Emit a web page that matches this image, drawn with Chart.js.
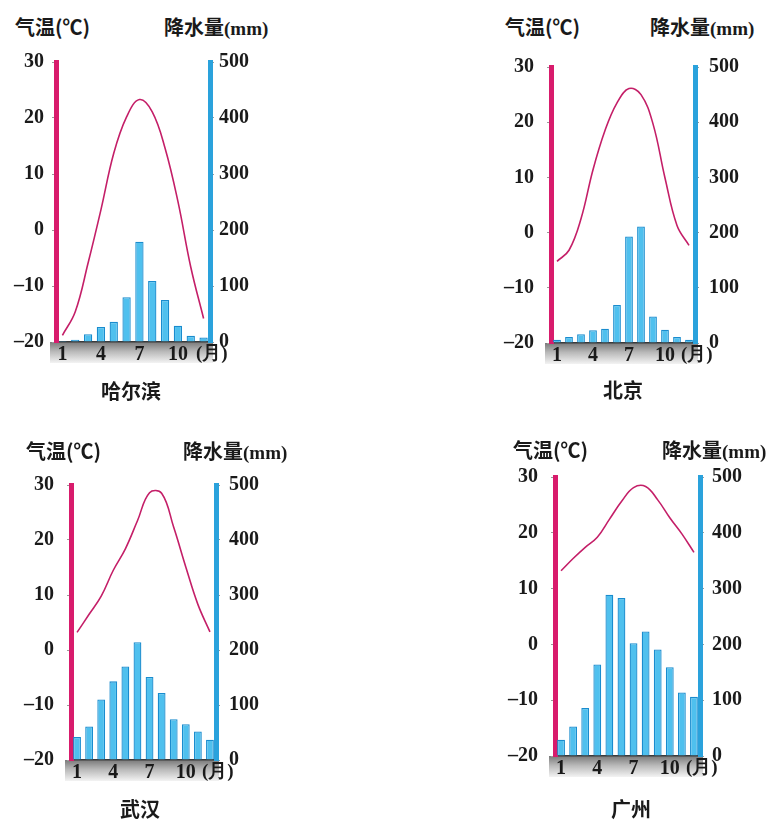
<!DOCTYPE html>
<html>
<head>
<meta charset="utf-8">
<script src="https://cdn.jsdelivr.net/npm/chart.js@4.4.1/dist/chart.umd.min.js"></script>
<style>
body { margin: 0; background: #fff; width: 769px; height: 820px; position: relative; overflow: hidden; }
.t { position: absolute; font-family: "Noto Sans CJK SC", sans-serif; font-weight: bold; font-size: 20px; color: #1a1a1a; white-space: nowrap; line-height: 20px; }
.mm { font-family: "Liberation Serif", serif; font-size: 19px; }
.yue { font-family: "Liberation Serif", serif; font-size: 19px; }
canvas { position: absolute; }
</style>
</head>
<body>
<script>
'use strict';

// data
var months = ['1', '2', '3', '4', '5', '6', '7', '8', '9', '10', '11', '12'];
var shownMonths = ['1', '4', '7', '10'];
var tempTicks = [-20, -10, 0, 10, 20, 30];
var rainTicks = [0, 100, 200, 300, 400, 500];

var harbinTemp = [-18.8, -14.6, -5.9, 3.6, 13.7, 20.2, 23.3, 21.1, 14.6, 5.1, -6.6, -15.8];
var harbinRain = [2, 4, 14, 27, 36, 80, 179, 109, 75, 29, 11, 8];

var beijingTemp = [-5.2, -3.2, 2.5, 11.4, 18.5, 23.5, 26.1, 25, 19.7, 9.9, 1.3, -2.3];
var beijingRain = [6, 11, 16, 23, 26, 69, 193, 211, 48, 24, 11, 6];

var wuhanTemp = [3.2, 6.5, 9.8, 14.5, 18.4, 23.5, 28.6, 28.5, 22.3, 15.1, 8.3, 3.3];
var wuhanRain = [42, 61, 110, 143, 170, 214, 151, 122, 74, 65, 52, 37];

var guangzhouTemp = [13.2, 15.4, 17.4, 19.2, 22.4, 25.6, 28.1, 28.3, 25.9, 22.7, 19.8, 16.5];
var guangzhouRain = [29, 53, 86, 164, 289, 283, 202, 223, 191, 159, 114, 106];

// where each little chart sits on the page
var charts = [
  { city: '哈尔滨', temp: harbinTemp, rain: harbinRain,
    x0: 56, x1: 210, y0: 62, y1: 342, lpad: 8, rpad: 5,
    tl: 15, tr: 164, ty: 17, cx: 131, cy: 381 },
  { city: '北京', temp: beijingTemp, rain: beijingRain,
    x0: 551, x1: 695, y0: 62, y1: 343, lpad: 13, rpad: 10,
    tl: 505, tr: 650, ty: 17, cx: 623, cy: 380 },
  { city: '武汉', temp: wuhanTemp, rain: wuhanRain,
    x0: 71, x1: 216, y0: 480, y1: 760, lpad: 13, rpad: 9,
    tl: 26, tr: 183, ty: 441, cx: 140, cy: 799 },
  { city: '广州', temp: guangzhouTemp, rain: guangzhouRain,
    x0: 555, x1: 700, y0: 472, y1: 756, lpad: 13, rpad: 8,
    tl: 513, tr: 662, ty: 440, cx: 631, cy: 799 }
];

var SIDE = 62, TOP = 20, BOTTOM = 30;

// grey strip under the month axis
var bandPlugin = {
  id: 'band',
  beforeDraw: function(chart) {
    var a = chart.chartArea;
    var ctx = chart.ctx;
    var g = ctx.createLinearGradient(0, a.bottom, 0, a.bottom + 21);
    g.addColorStop(0, '#7a7a7a');
    g.addColorStop(0.45, '#b9b9b9');
    g.addColorStop(1, '#f3f3f3');
    ctx.save();
    ctx.fillStyle = g;
    ctx.fillRect(a.left - 6, a.bottom, a.right - a.left + 9, 21);
    ctx.restore();
  }
};

function dash(v) {
  return v < 0 ? '\u2013' + Math.abs(v) : String(v);
}

function addText(html, cls, left, top, center) {
  var d = document.createElement('div');
  d.className = cls;
  d.innerHTML = html;
  d.style.left = left + 'px';
  d.style.top = top + 'px';
  if (center) d.style.transform = 'translateX(-50%)';
  document.body.appendChild(d);
}

function makeChart(c) {
  var canvas = document.createElement('canvas');
  canvas.width = (c.x1 - c.x0) + SIDE * 2;
  canvas.height = (c.y1 - c.y0) + TOP + BOTTOM;
  canvas.style.left = (c.x0 - SIDE) + 'px';
  canvas.style.top = (c.y0 - TOP) + 'px';
  document.body.appendChild(canvas);

  var tickFont = { family: '"Liberation Serif", serif', size: 20, weight: 'bold' };

  new Chart(canvas.getContext('2d'), {
    data: {
      labels: months,
      datasets: [
        {
          type: 'line', data: c.temp, yAxisID: 'yT',
          borderColor: '#c41f68', borderWidth: 1.6, pointRadius: 0,
          tension: 0.4, order: 0
        },
        {
          type: 'bar', data: c.rain, yAxisID: 'yP',
          backgroundColor: '#4fc0ee', borderColor: '#1a8cce', borderWidth: 1.3,
          categoryPercentage: 0.9, barPercentage: 0.72, order: 1
        }
      ]
    },
    options: {
      responsive: false,
      animation: false,
      events: [],
      layout: { padding: { top: TOP, left: 0, right: 0, bottom: 0 } },
      plugins: { legend: { display: false }, tooltip: { enabled: false } },
      scales: {
        x: {
          grid: { display: false, drawTicks: false },
          border: { display: true, color: '#3a3a3a', width: 1.5 },
          ticks: {
            autoSkip: false, maxRotation: 0, padding: 1, color: '#1a1a1a', font: tickFont,
            callback: function(v, i) {
              return shownMonths.indexOf(months[i]) >= 0 ? months[i] : '';
            }
          },
          afterFit: function(s) { s.height = BOTTOM; }
        },
        yT: {
          position: 'left', min: tempTicks[0], max: tempTicks[tempTicks.length - 1],
          grid: { drawOnChartArea: false, tickLength: 4, color: '#9a9a9a' },
          border: { color: '#d81b6c', width: 5 },
          ticks: { stepSize: 10, padding: c.lpad, color: '#1a1a1a', font: tickFont, callback: dash },
          afterFit: function(s) { s.width = SIDE; }
        },
        yP: {
          position: 'right', min: rainTicks[0], max: rainTicks[rainTicks.length - 1],
          grid: { drawOnChartArea: false, tickLength: 4, color: '#9a9a9a' },
          border: { color: '#2aa2dc', width: 5 },
          ticks: { stepSize: 100, padding: c.rpad, color: '#1a1a1a', font: tickFont },
          afterFit: function(s) { s.width = SIDE; }
        }
      }
    },
    plugins: [bandPlugin]
  });

  addText('气温(℃)', 't', c.tl, c.ty, false);
  addText('降水量<span class="mm">(mm)</span>', 't', c.tr, c.ty, false);
  addText('(月)', 't yue', c.x1 - 14, c.y1 + 1, false);
  addText(c.city, 't', c.cx, c.cy, true);
}

charts.forEach(makeChart);
</script>
</body>
</html>
